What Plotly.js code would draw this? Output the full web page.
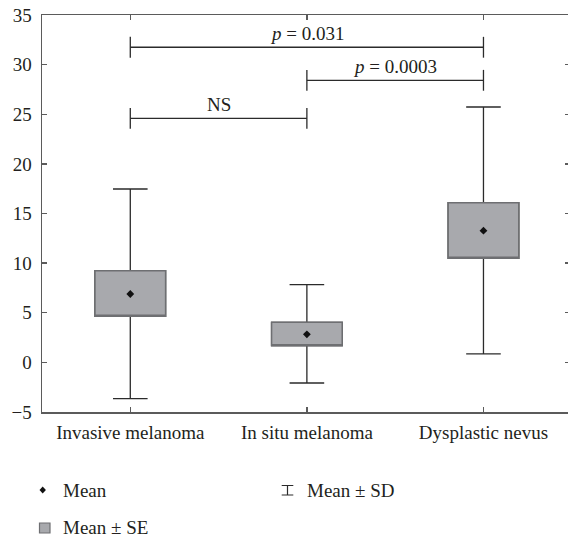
<!DOCTYPE html>
<html>
<head>
<meta charset="utf-8">
<script src="https://cdn.plot.ly/plotly-3.0.1.min.js"></script>
<style>
html,body{margin:0;padding:0;background:#fff;overflow:hidden;}
#chart{width:572px;height:539px;}
</style>
</head>
<body>
<div id="chart"></div>
<script>
// ---- data ----
const categories = ['Invasive melanoma', 'In situ melanoma', 'Dysplastic nevus'];
const means  = [6.89, 2.83, 13.27];
const seLow  = [4.64, 1.68, 10.49];
const seHigh = [9.24, 4.04, 16.09];
const sdLow  = [-3.66, -2.08, 0.85];
const sdHigh = [17.47, 7.83, 25.73];

const compFrom   = [0, 1, 0];
const compTo     = [2, 2, 1];
const compY      = [31.75, 28.42, 24.59];
const compLabels = ['<i>p</i> = 0.031', '<i>p</i> = 0.0003', 'NS'];

const yTicks = [-5, 0, 5, 10, 15, 20, 25, 30, 35];
const legendLabels = ['Mean', 'Mean ± SD', 'Mean ± SE'];

// ---- styling ----
const FONT = 'Liberation Serif, Times New Roman, serif';
const TXT = '#231f20';
const BOX_FILL = '#a8a9ad';
const BOX_LINE = '#6e6f72';
const WHISK = '#2b2b2b';
const AXIS = '#5b5b5b';

const W = 572, H = 539;
const M = {l: 42, r: 2, t: 15, b: 127};
const PW = W - M.l - M.r, PH = H - M.t - M.b;
const px = x => (x - M.l) / PW;
const py = y => (M.t + PH - y) / PH;

const traces = [];

// whiskers (mean ± SD) with SE box
traces.push({
  type: 'box',
  x: categories,
  q1: seLow, median: seLow, q3: seHigh,
  lowerfence: sdLow, upperfence: sdHigh,
  width: 0.4, whiskerwidth: 0.49,
  fillcolor: BOX_FILL,
  line: {color: WHISK, width: 1.3},
  boxpoints: false, showlegend: false, hoverinfo: 'skip'
});
// SE box outline in grey on top
traces.push({
  type: 'box',
  x: categories,
  q1: seLow, median: seLow, q3: seHigh,
  lowerfence: seLow, upperfence: seHigh,
  width: 0.4, whiskerwidth: 0,
  fillcolor: BOX_FILL,
  line: {color: BOX_LINE, width: 1.5},
  boxpoints: false, showlegend: false, hoverinfo: 'skip'
});
// means
traces.push({
  type: 'scatter', mode: 'markers',
  x: categories, y: means,
  marker: {symbol: 'diamond', size: 6, color: '#111'},
  showlegend: false, hoverinfo: 'skip'
});

// significance brackets
const bx = [], by = [];
const tickH = 1.05;
for (let i = 0; i < compY.length; i++) {
  const a = categories[compFrom[i]], b = categories[compTo[i]], h = compY[i];
  bx.push(a, a, null, a, b, null, b, b, null);
  by.push(h - tickH, h + tickH, null, h, h, null, h - tickH, h + tickH, null);
}
traces.push({
  type: 'scatter', mode: 'lines', x: bx, y: by,
  line: {color: WHISK, width: 1.3}, connectgaps: false,
  showlegend: false, hoverinfo: 'skip'
});

const annotations = compLabels.map((t, i) => ({
  xref: 'x', yref: 'y',
  x: (compFrom[i] + compTo[i]) / 2, y: compY[i],
  text: t, showarrow: false, yanchor: 'middle', yshift: 14,
  font: {family: FONT, size: 19, color: TXT}
}));

// custom legend
const legPos = [[61, 490], [305, 490], [61, 527]];
legendLabels.forEach((t, i) => {
  annotations.push({
    xref: 'paper', yref: 'paper', x: px(legPos[i][0]), y: py(legPos[i][1]),
    xanchor: 'left', yanchor: 'middle', text: t, showarrow: false,
    font: {family: FONT, size: 19, color: TXT}
  });
});

const shapes = [];
// diamond
(function () {
  const cx = 42.7, cy = 490, hw = 3.2, hh = 3.6;
  shapes.push({
    type: 'path', xref: 'paper', yref: 'paper',
    path: `M ${px(cx)} ${py(cy - hh)} L ${px(cx + hw)} ${py(cy)} L ${px(cx)} ${py(cy + hh)} L ${px(cx - hw)} ${py(cy)} Z`,
    fillcolor: '#111', line: {width: 0}
  });
})();
// I-beam
(function () {
  const cx = 287.5, y0 = 485.5, y1 = 495, hw = 5.8;
  shapes.push({
    type: 'path', xref: 'paper', yref: 'paper',
    path: `M ${px(cx - hw)} ${py(y0)} L ${px(cx + hw)} ${py(y0)} M ${px(cx)} ${py(y0)} L ${px(cx)} ${py(y1)} M ${px(cx - hw)} ${py(y1)} L ${px(cx + hw)} ${py(y1)}`,
    line: {color: WHISK, width: 1.2}
  });
})();
// square
shapes.push({
  type: 'rect', xref: 'paper', yref: 'paper',
  x0: px(39.5), x1: px(50), y0: py(533), y1: py(523),
  fillcolor: BOX_FILL, line: {color: BOX_LINE, width: 1.2}
});

const layout = {
  width: W, height: H,
  margin: M,
  paper_bgcolor: '#fff', plot_bgcolor: '#fff',
  showlegend: false,
  boxmode: 'overlay',
  font: {family: FONT, size: 19, color: TXT},
  xaxis: {
    type: 'category', range: [-0.5, 2.49],
    showgrid: false, zeroline: false,
    showline: true, linecolor: AXIS, linewidth: 1.5,
    mirror: 'ticks', ticks: 'inside', ticklen: 5, tickcolor: AXIS, tickwidth: 1.3,
    ticklabelstandoff: 3,
    tickfont: {family: FONT, size: 19, color: TXT}
  },
  yaxis: {
    range: [-5, 35], tickvals: yTicks,
    ticktext: yTicks.map(v => v < 0 ? '\u2212' + Math.abs(v) : String(v)),
    showgrid: false, zeroline: false,
    showline: true, linecolor: AXIS, linewidth: 1.5,
    mirror: 'ticks', ticks: 'inside', ticklen: 5, tickcolor: AXIS, tickwidth: 1.3,
    ticklabelstandoff: 5,
    tickfont: {family: FONT, size: 19, color: TXT}
  },
  annotations: annotations,
  shapes: shapes
};

Plotly.newPlot('chart', traces, layout, {staticPlot: true, displayModeBar: false});
</script>
</body>
</html>
